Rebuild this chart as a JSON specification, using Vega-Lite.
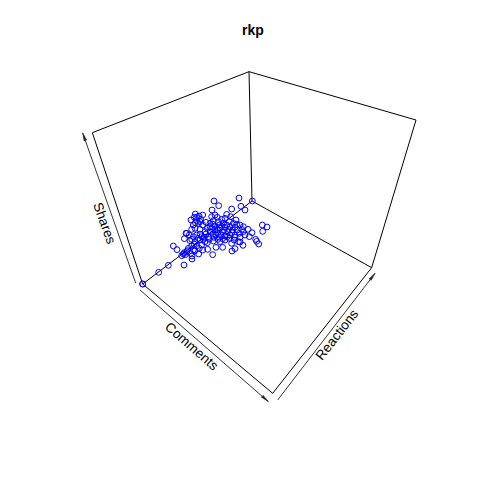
{
"$schema":"https://vega.github.io/schema/vega-lite/v6.json",
"width":480,"height":480,"padding":0,"autosize":{"type":"none"},
"background":"white",
"title":{"text":"rkp","font":"Liberation Sans","fontSize":14,"fontWeight":"bold","color":"black","frame":"group","anchor":"middle","offset":-38,"dx":13},
"config":{"view":{"stroke":null}},
"datasets":{
"box":[
{"x":38,"y":312,"x2":428,"y2":640},{"x":428,"y":640,"x2":725,"y2":263},{"x":725,"y":263,"x2":366,"y2":63},{"x":366,"y":63,"x2":38,"y2":312},
{"x":38,"y":312,"x2":-113,"y2":-142},{"x":-113,"y":-142,"x2":357,"y2":-325},{"x":357,"y":-325,"x2":858,"y2":-180},{"x":858,"y":-180,"x2":725,"y2":263},{"x":357,"y":-325,"x2":366,"y2":63}],
"arrows":[
{"x":17,"y":309,"x2":-142,"y2":-141},{"x":30,"y":330,"x2":415,"y2":665},{"x":443,"y":660,"x2":735,"y2":280}],
"heads":[{"x":-138,"y":-130,"a":-19.5},{"x":406,"y":657,"a":131},{"x":728,"y":289,"a":37.6}],
"labels":[{"x":-78,"y":130,"t":"Shares","a":70},{"x":184,"y":500,"t":"Comments","a":41},{"x":622,"y":465,"t":"Reactions","a":-52}],
"pts":[
{"x":38,"y":312},{"x":38,"y":312},{"x":86,"y":277},{"x":115,"y":256},{"x":162,"y":255},{"x":186,"y":237},{"x":186,"y":228},{"x":130,"y":198},{"x":141,"y":209},{"x":163,"y":176},{"x":170,"y":160},
{"x":252,"y":63},{"x":266,"y":77},{"x":327,"y":54},{"x":333,"y":79},{"x":345,"y":90},{"x":305,"y":87},{"x":246,"y":90},{"x":367,"y":63},{"x":397,"y":135},{"x":411,"y":141},{"x":398,"y":154},{"x":386,"y":192},{"x":380,"y":184},{"x":366,"y":158},{"x":354,"y":148},{"x":340,"y":140},{"x":358,"y":170},{"x":377,"y":178},{"x":339,"y":196},{"x":330,"y":186},{"x":315,"y":206},{"x":306,"y":213},{"x":278,"y":202},{"x":258,"y":202},{"x":248,"y":224},{"x":233,"y":208},{"x":218,"y":210},{"x":206,"y":222},{"x":190,"y":210},{"x":166,"y":224},{"x":155,"y":227},{"x":160,"y":222},{"x":170,"y":215},
{"x":196,"y":102},{"x":183,"y":120},{"x":193,"y":112},{"x":207,"y":108},{"x":218,"y":105},{"x":200,"y":122},{"x":212,"y":118},{"x":190,"y":135},{"x":205,"y":130},{"x":218,"y":135},{"x":228,"y":127},{"x":195,"y":145},{"x":210,"y":148},{"x":185,"y":148},
{"x":245,"y":110},{"x":255,"y":105},{"x":262,"y":112},{"x":250,"y":122},{"x":240,"y":130},{"x":265,"y":125},{"x":275,"y":118},{"x":290,"y":103},{"x":302,"y":110},{"x":285,"y":115},{"x":318,"y":120},{"x":298,"y":125},{"x":310,"y":130},{"x":280,"y":130},{"x":268,"y":135},{"x":255,"y":140},{"x":245,"y":145},{"x":232,"y":145},{"x":225,"y":155},{"x":240,"y":155},{"x":255,"y":150},{"x":270,"y":145},{"x":285,"y":142},{"x":300,"y":140},{"x":315,"y":142},{"x":330,"y":135},{"x":322,"y":150},{"x":308,"y":150},{"x":293,"y":155},{"x":278,"y":155},{"x":263,"y":158},{"x":250,"y":162},{"x":235,"y":170},{"x":222,"y":172},{"x":210,"y":162},{"x":200,"y":165},{"x":190,"y":170},{"x":178,"y":165},{"x":168,"y":160},{"x":180,"y":182},{"x":195,"y":185},{"x":210,"y":180},{"x":225,"y":185},{"x":238,"y":178},{"x":252,"y":172},{"x":268,"y":172},{"x":285,"y":168},{"x":300,"y":165},{"x":315,"y":165},{"x":328,"y":160},{"x":340,"y":155},{"x":345,"y":165},{"x":330,"y":172},{"x":312,"y":180},{"x":298,"y":175},{"x":285,"y":180},{"x":270,"y":185},{"x":250,"y":183},{"x":325,"y":185},{"x":305,"y":190},{"x":215,"y":195},{"x":200,"y":198},{"x":185,"y":198},{"x":175,"y":205},{"x":195,"y":212},{"x":208,"y":205},{"x":172,"y":212},{"x":182,"y":220},{"x":163,"y":218},
{"x":240,"y":140},{"x":262,"y":148},{"x":275,"y":140},{"x":290,"y":135},{"x":305,"y":158},{"x":320,"y":133},{"x":335,"y":148},{"x":248,"y":132},{"x":258,"y":165},{"x":272,"y":165},{"x":228,"y":162},{"x":215,"y":170},{"x":205,"y":175},{"x":192,"y":192},{"x":220,"y":178},{"x":232,"y":188},{"x":185,"y":178},{"x":200,"y":112},{"x":210,"y":125},{"x":196,"y":128},{"x":292,"y":170},{"x":278,"y":176},{"x":315,"y":172},{"x":296,"y":148},{"x":283,"y":150},{"x":264,"y":178}
]
},
"layer":[
{"data":{"name":"box"},"mark":{"type":"rule","color":"#000000","strokeWidth":1},
"encoding":{"x":{"field":"x","type":"quantitative","scale":{"domain":[-390,1050],"nice":false,"zero":false},"axis":null},"y":{"field":"y","type":"quantitative","scale":{"domain":[900,-540],"nice":false,"zero":false},"axis":null},"x2":{"field":"x2"},"y2":{"field":"y2"}}},
{"data":{"name":"arrows"},"mark":{"type":"rule","color":"#000000","strokeWidth":0.8},
"encoding":{"x":{"field":"x","type":"quantitative"},"y":{"field":"y","type":"quantitative"},"x2":{"field":"x2"},"y2":{"field":"y2"}}},
{"data":{"name":"heads"},"mark":{"type":"point","shape":"M0,-1L0.35,1L-0.35,1Z","filled":true,"fill":"#222222","stroke":"#222222","size":70,"strokeWidth":0.3,"opacity":1},
"encoding":{"x":{"field":"x","type":"quantitative"},"y":{"field":"y","type":"quantitative"},"angle":{"field":"a","type":"quantitative","scale":null}}},
{"data":{"name":"labels"},"mark":{"type":"text","font":"Liberation Sans","fontSize":13.5,"color":"black","align":"center","baseline":"middle"},
"encoding":{"x":{"field":"x","type":"quantitative"},"y":{"field":"y","type":"quantitative"},"text":{"field":"t"},"angle":{"field":"a","type":"quantitative","scale":null}}},
{"data":{"name":"pts"},"mark":{"type":"point","shape":"circle","filled":false,"color":"#0000ff","size":34,"strokeWidth":1,"opacity":1},
"encoding":{"x":{"field":"x","type":"quantitative"},"y":{"field":"y","type":"quantitative"}}}
]
}
